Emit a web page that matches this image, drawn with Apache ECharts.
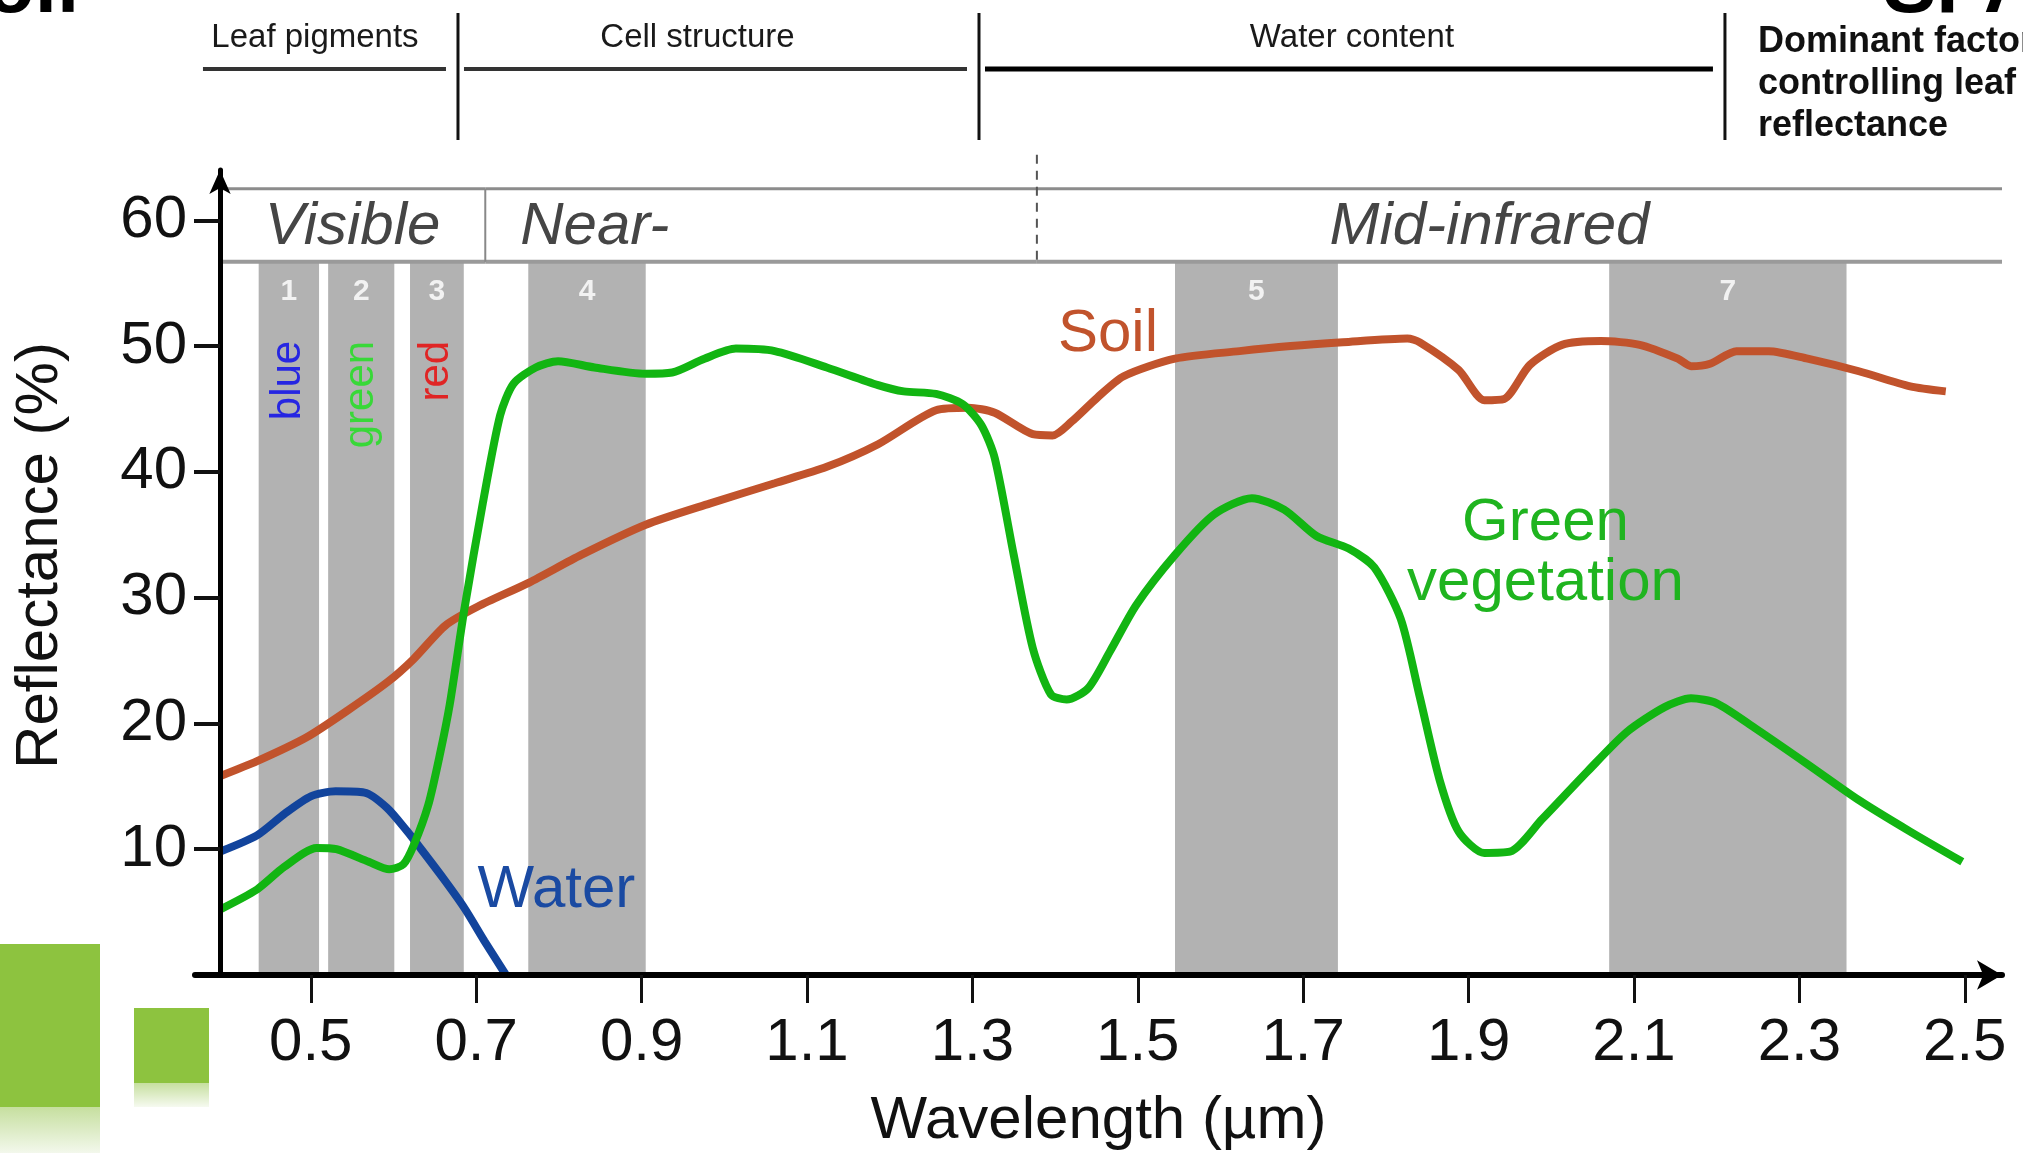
<!DOCTYPE html>
<html lang="en" style="height: 100%">
<head>
  <meta charset="utf-8">
</head>
<body style="height: 100%; margin: 0; background: #fff">
  <div id="container" style="height: 100%"></div>

  <script type="text/javascript" src="https://cdn.jsdelivr.net/npm/echarts@6.0.0/dist/echarts.min.js"></script>

  <script type="text/javascript">
    var FONT = '"Liberation Sans", Arial, sans-serif';

    // axis ticks
    var xTicks = [0.5, 0.7, 0.9, 1.1, 1.3, 1.5, 1.7, 1.9, 2.1, 2.3, 2.5];
    var yTicks = [10, 20, 30, 40, 50, 60];

    // [wavelength um, reflectance %]
    var soil = [
      [0.39, 15.8], [0.435, 17.0], [0.495, 18.9], [0.546, 21.1], [0.593, 23.3], [0.624, 25.1],
      [0.663, 27.8], [0.702, 29.3], [0.764, 31.2], [0.827, 33.4], [0.905, 35.8], [0.983, 37.5],
      [1.061, 39.1], [1.124, 40.4], [1.186, 42.2], [1.256, 44.9], [1.295, 45.1], [1.327, 44.7],
      [1.373, 43.0], [1.397, 42.9], [1.420, 44.0], [1.451, 45.9], [1.483, 47.6], [1.545, 49.0],
      [1.623, 49.6], [1.685, 50.0], [1.748, 50.3], [1.826, 50.6], [1.841, 50.3], [1.888, 48.1],
      [1.919, 45.7], [1.943, 45.8], [1.974, 48.5], [2.013, 50.1], [2.060, 50.4], [2.107, 50.1],
      [2.153, 49.0], [2.169, 48.4], [2.192, 48.6], [2.224, 49.6], [2.263, 49.6], [2.310, 49.0],
      [2.372, 48.0], [2.434, 46.8], [2.477, 46.4]
    ];
    var vegetation = [
      [0.39, 5.2], [0.435, 6.8], [0.468, 8.6], [0.507, 10.1], [0.531, 10.0], [0.57, 9.0],
      [0.595, 8.4], [0.612, 8.8], [0.625, 10.4], [0.642, 13.5], [0.656, 17.5], [0.668, 21.5],
      [0.686, 29.2], [0.708, 37.5], [0.729, 44.5], [0.745, 47.0], [0.772, 48.3], [0.799, 48.8],
      [0.843, 48.3], [0.905, 47.8], [0.937, 47.9], [0.976, 49.0], [1.014, 49.8], [1.061, 49.6],
      [1.124, 48.3], [1.186, 46.9], [1.217, 46.4], [1.256, 46.2], [1.288, 45.4], [1.311, 43.7],
      [1.327, 41.1], [1.350, 33.4], [1.373, 26.0], [1.395, 22.3], [1.414, 21.9], [1.440, 22.8],
      [1.467, 25.8], [1.498, 29.4], [1.545, 33.4], [1.592, 36.6], [1.638, 37.9], [1.677, 37.0],
      [1.716, 34.9], [1.755, 33.9], [1.786, 32.4], [1.818, 28.3], [1.841, 22.1], [1.865, 15.5],
      [1.888, 11.4], [1.919, 9.7], [1.950, 9.8], [1.989, 12.4], [2.044, 16.2], [2.091, 19.3],
      [2.137, 21.3], [2.169, 22.0], [2.200, 21.6], [2.247, 19.6], [2.309, 16.8], [2.372, 13.9],
      [2.434, 11.4], [2.497, 9.0]
    ];
    var water = [
      [0.39, 9.8], [0.435, 11.1], [0.468, 12.8], [0.500, 14.2], [0.530, 14.6], [0.565, 14.5],
      [0.592, 13.3], [0.617, 11.4], [0.630, 10.3], [0.660, 7.7], [0.686, 5.3], [0.710, 2.7],
      [0.736, 0.0]
    ];

    // Landsat TM bands (grey columns)
    var bandNames = ['1', '2', '3', '4', '5', '7'];
    var bandStart = [0.437, 0.521, 0.620, 0.763, 1.545, 2.070];
    var bandEnd = [0.510, 0.601, 0.685, 0.905, 1.742, 2.357];
    var bandColours = ['blue', 'green', 'red', '', '', ''];

    // spectral regions in the header strip
    var regionNames = ['Visible', 'Near-', 'Mid-infrared'];
    var regionEdges = [0.39, 0.711, 1.378, 2.545];

    // dominant factors above the chart
    var factorNames = ['Leaf pigments', 'Cell structure', 'Water content'];
    var factorEdges = [0.366, 0.678, 1.308, 2.210];

    var HEADER_TOP = 62.5;
    var HEADER_BOTTOM = 56.7;
    var inkOf = { blue: '#2626e2', green: '#38d838', red: '#e02525' };
    var headerAlign = ['center', 'left', 'center'];
    var headerNudge = [0, 35, -30];
    var factorNudge = [-14, -21, 0];

    var curveLabels = [
      { text: 'Soil', at: [1.464, 50.9], color: '#c1532c' },
      { text: 'Water', at: [0.797, 6.7], color: '#1a4aa2' },
      { text: 'Green\nvegetation', at: [1.993, 33.5], color: '#1fb41f' }
    ];

    var dom = document.getElementById('container');
    var myChart = echarts.init(dom, null, { renderer: 'canvas' });

    function renderBand(params, api) {
      var i = params.dataIndex;
      var lo = api.coord([api.value(0), 0]);
      var hi = api.coord([api.value(1), HEADER_BOTTOM]);
      var cx = (lo[0] + hi[0]) / 2;
      var kids = [
        { type: 'rect', shape: { x: lo[0], y: hi[1], width: hi[0] - lo[0], height: lo[1] - hi[1] },
          style: { fill: '#b2b2b2' } },
        { type: 'text', x: cx, y: hi[1] + 30,
          style: { text: bandNames[i], align: 'center', verticalAlign: 'middle', fill: '#f2f2f2',
                   fontSize: 30, fontWeight: 'bold', fontFamily: FONT } }
      ];
      if (bandColours[i]) {
        kids.push({ type: 'text', x: cx, y: hi[1] + 79, rotation: Math.PI / 2,
          style: { text: bandColours[i], align: 'right', verticalAlign: 'middle',
                   fill: inkOf[bandColours[i]], fontSize: 42, fontFamily: FONT } });
      }
      return { type: 'group', children: kids };
    }

    function renderHeader(params, api) {
      var i = params.dataIndex;
      var tl = api.coord([api.value(0), HEADER_TOP]);
      var br = api.coord([api.value(1), HEADER_BOTTOM]);
      var kids = [
        { type: 'line', shape: { x1: tl[0], y1: tl[1], x2: br[0], y2: tl[1] },
          style: { stroke: '#8c8c8c', lineWidth: 3 } },
        { type: 'line', shape: { x1: tl[0], y1: br[1], x2: br[0], y2: br[1] },
          style: { stroke: '#9a9a9a', lineWidth: 4 } }
      ];
      if (i === 1) {
        kids.push({ type: 'line', shape: { x1: tl[0], y1: tl[1], x2: tl[0], y2: br[1] },
          style: { stroke: '#888', lineWidth: 2 } });
      }
      if (i === 2) {
        kids.push({ type: 'line', shape: { x1: tl[0], y1: tl[1] - 34, x2: tl[0], y2: br[1] },
          style: { stroke: '#555', lineWidth: 2, lineDash: [9, 7] } });
      }
      var tx = headerAlign[i] === 'left' ? tl[0] : (tl[0] + br[0]) / 2;
      kids.push({ type: 'text', x: tx + headerNudge[i], y: (tl[1] + br[1]) / 2 + 2,
        style: { text: regionNames[i], align: headerAlign[i], verticalAlign: 'middle',
                 fill: '#454545', fontSize: 60, fontStyle: 'italic', fontFamily: FONT } });
      return { type: 'group', children: kids };
    }

    function renderFactor(params, api) {
      var i = params.dataIndex;
      var top = params.coordSys.y;
      var a = api.coord([api.value(0), 0])[0];
      var b = api.coord([api.value(1), 0])[0];
      return { type: 'group', children: [
        { type: 'text', x: (a + b) / 2 + factorNudge[i], y: top - 132,
          style: { text: factorNames[i], align: 'center', verticalAlign: 'middle',
                   fill: '#1a1a1a', fontSize: 33, fontFamily: FONT } },
        { type: 'line', shape: { x1: i ? a + 6 : a + 3, y1: top - 101, x2: b - 12, y2: top - 101 },
          style: { stroke: i === 2 ? '#000' : '#333', lineWidth: i === 2 ? 5 : 4 } },
        { type: 'line', shape: { x1: b, y1: top - 157, x2: b, y2: top - 30 },
          style: { stroke: '#111', lineWidth: 3 } }
      ] };
    }

    function renderCurveLabel(params, api) {
      var d = curveLabels[params.dataIndex];
      var p = api.coord([api.value(0), api.value(1)]);
      return { type: 'text', x: p[0], y: p[1],
        style: { text: d.text, align: 'center', verticalAlign: 'middle', fill: d.color,
                 fontSize: 60, lineHeight: 60, fontFamily: FONT } };
    }

    var option = {
      animation: false,
      backgroundColor: '#fff',
      grid: { left: 195, right: 21, top: 170, bottom: 178, outerBoundsMode: 'none' },
      xAxis: {
        type: 'value', min: 0.36, max: 2.545, z: 5,
        name: 'Wavelength (\u00b5m)', nameLocation: 'middle', nameGap: 116,
        nameTextStyle: { fontSize: 60, color: '#111', fontFamily: FONT },
        axisLine: { show: true, lineStyle: { color: '#000', width: 6 },
                    symbol: ['none', 'arrow'], symbolSize: [22, 25] },
        axisTick: { show: true, length: 28, customValues: xTicks, lineStyle: { color: '#111', width: 3 } },
        axisLabel: { customValues: xTicks, fontSize: 60, margin: 38, color: '#111', fontFamily: FONT,
                     formatter: function (v) { return v.toFixed(1); } },
        splitLine: { show: false }
      },
      yAxis: {
        type: 'value', min: 0, max: 64, offset: -25, z: 5,
        name: 'Reflectance (%)', nameLocation: 'middle', nameGap: 150,
        nameTextStyle: { fontSize: 60, color: '#111', fontFamily: FONT, padding: [0, 0, 0, 34] },
        axisLine: { show: true, onZero: false, lineStyle: { color: '#000', width: 5 },
                    symbol: ['none', 'arrow'], symbolSize: [16, 24] },
        axisTick: { show: true, length: 26, customValues: yTicks, lineStyle: { color: '#111', width: 4 } },
        axisLabel: { customValues: yTicks, fontSize: 60, margin: 33, color: '#111', fontFamily: FONT },
        splitLine: { show: false }
      },
      series: [
        { type: 'custom', name: 'bands', z: 1, clip: false, renderItem: renderBand,
          data: bandStart.map(function (s, i) { return [s, bandEnd[i]]; }) },
        { type: 'custom', name: 'header', z: 2, clip: false, renderItem: renderHeader,
          data: regionNames.map(function (n, i) { return [regionEdges[i], regionEdges[i + 1]]; }) },
        { type: 'custom', name: 'factors', z: 2, clip: false, renderItem: renderFactor,
          data: factorNames.map(function (n, i) { return [factorEdges[i], factorEdges[i + 1]]; }) },
        { type: 'line', name: 'Soil', data: soil, smooth: 0.25, showSymbol: false, z: 3,
          lineStyle: { color: '#c1532c', width: 8 } },
        { type: 'line', name: 'Water', data: water, smooth: 0.25, showSymbol: false, z: 3,
          lineStyle: { color: '#12449c', width: 8 } },
        { type: 'line', name: 'Green vegetation', data: vegetation, smooth: 0.25, showSymbol: false, z: 4,
          lineStyle: { color: '#12b512', width: 8 } },
        { type: 'custom', name: 'labels', z: 4, clip: false, renderItem: renderCurveLabel,
          data: curveLabels.map(function (d) { return d.at; }) }
      ],
      graphic: [
        { type: 'text', x: 1758, y: 21, z: 10,
          style: { text: 'Dominant factor\ncontrolling leaf\nreflectance', fill: '#111',
                   fontSize: 36, fontWeight: 'bold', lineHeight: 42, fontFamily: FONT,
                   verticalAlign: 'top' } },
        { type: 'text', x: -14, y: 30, z: 10,
          style: { text: 'oil', fill: '#000', fontSize: 80, fontWeight: 'bold', fontFamily: FONT,
                   verticalAlign: 'bottom' } },
        { type: 'text', x: 1883, y: 30, z: 10,
          style: { text: 'SPA', fill: '#000', fontSize: 80, fontWeight: 'bold', fontFamily: FONT,
                   verticalAlign: 'bottom' } },
        { type: 'rect', shape: { x: 0, y: 944, width: 100, height: 163 }, style: { fill: '#8dc33f' } },
        { type: 'rect', shape: { x: 0, y: 1107, width: 100, height: 46 },
          style: { fill: new echarts.graphic.LinearGradient(0, 0, 0, 1,
            [{ offset: 0, color: '#c6df9f' }, { offset: 1, color: '#f3f8ec' }]) } },
        { type: 'rect', shape: { x: 134, y: 1008, width: 75, height: 75 }, style: { fill: '#8dc33f' } },
        { type: 'rect', shape: { x: 134, y: 1083, width: 75, height: 24 },
          style: { fill: new echarts.graphic.LinearGradient(0, 0, 0, 1,
            [{ offset: 0, color: '#c6df9f' }, { offset: 1, color: '#f6faf0' }]) } }
      ]
    };

    myChart.setOption(option);
    window.addEventListener('resize', myChart.resize);
  </script>
</body>
</html>
